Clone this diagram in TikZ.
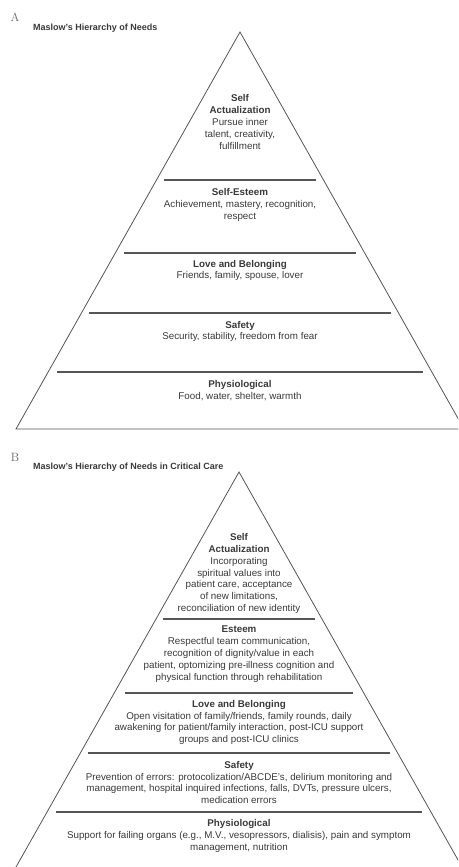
\documentclass[tikz,border=0pt]{standalone}
\usepackage{fontspec}
\setsansfont{Liberation Sans}
\usepackage{xcolor}
\definecolor{inkgray}{HTML}{3A3A3A}
\definecolor{rulegray}{HTML}{555555}

\begin{document}
\begin{tikzpicture}[x=1pt,y=-1pt,
        level/.style={align=center, inner sep=0pt, text=inkgray,
            font=\sffamily\fontsize{9.8}{11.9}\selectfont},
        heading/.style={anchor=west, inner sep=0pt, text=inkgray,
            font=\sffamily\bfseries\fontsize{9}{11}\selectfont},
        panel/.style={inner sep=0pt, text=black!60,
            font=\rmfamily\fontsize{12}{12}\selectfont}]
        \clip (0,0) rectangle (458,867);
        \fill[white] (0,0) rectangle (458,867);

        % panel A
        \node[panel] (tagA) at (15,17) {A};
        \node[heading] (titleA) at (33,28) {Maslow's Hierarchy of Needs};
        \draw[rulegray, line width=0.8pt] (16,429) -- (240,32) -- (464,429) -- cycle;
        \foreach \y/\w in {180/76,253/116,313/151,372/183}{% separators
            \draw[rulegray, line width=1.1pt] (240-\w,\y) -- (240+\w,\y);
        }

        \node[level] (selfA) at (240,122) {\textbf{Self}\\\textbf{Actualization}\\Pursue inner\\talent, creativity,\\fulfillment};
        \node[level] (esteemA) at (240,205) {\textbf{Self-Esteem}\\Achievement, mastery, recognition,\\respect};
        \node[level] (loveA) at (240,270.5) {\textbf{Love and Belonging}\\Friends, family, spouse, lover};
        \node[level] (safetyA) at (240,331.5) {\textbf{Safety}\\Security, stability, freedom from fear};
        \node[level] (physioA) at (240,390.5) {\textbf{Physiological}\\Food, water, shelter, warmth};

        % panel B
        \node[panel] (tagB) at (15,457) {B};
        \node[heading] (titleB) at (33,467) {Maslow's Hierarchy of Needs in Critical Care};
        \draw[rulegray, line width=0.8pt] (16,867) -- (239,472) -- (462,867);
        \foreach \y/\w in {619/76,693/114,753/151,812/183}{% separators
            \draw[rulegray, line width=1.1pt] (239-\w,\y) -- (239+\w,\y);
        }

        \node[level] (selfB) at (239,573.5) {\textbf{Self}\\\textbf{Actualization}\\Incorporating\\spiritual values into\\patient care, acceptance\\of new limitations,\\reconciliation of new identity};
        \node[level] (esteemB) at (239,654) {\textbf{Esteem}\\Respectful team communication,\\recognition of dignity/value in each\\patient, optomizing pre-illness cognition and\\physical function through rehabilitation};
        \node[level] (loveB) at (239,722.5) {\textbf{Love and Belonging}\\Open visitation of family/friends, family rounds, daily\\awakening for patient/family interaction, post-ICU support\\groups and post-ICU clinics};
        \node[level] (safetyB) at (239,782.5) {\textbf{Safety}\\Prevention of errors: protocolization/ABCDE's, delirium monitoring and\\management, hospital inquired infections, falls, DVTs, pressure ulcers,\\medication errors};
        \node[level] (physioB) at (239,836) {\textbf{Physiological}\\Support for failing organs (e.g., M.V., vesopressors, dialisis), pain and symptom\\management, nutrition};
    \end{tikzpicture}
\end{document}
